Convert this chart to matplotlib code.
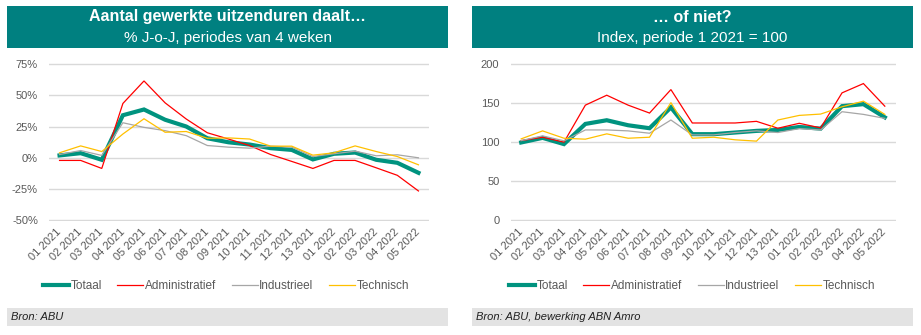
import matplotlib
matplotlib.use("Agg")
import matplotlib.pyplot as plt
from matplotlib.patches import Rectangle
from matplotlib.ticker import FuncFormatter

plt.rcParams['font.family'] = ['Liberation Sans', 'DejaVu Sans']

periods = ["01 2021", "02 2021", "03 2021", "04 2021", "05 2021", "06 2021",
           "07 2021", "08 2021", "09 2021", "10 2021", "11 2021", "12 2021",
           "13 2021", "01 2022", "02 2022", "03 2022", "04 2022", "05 2022"]

# Year-on-year change (%), 4-week periods
yoy_totaal = [1.9, 3.7, -1.6, 34.0, 38.6, 30.4, 25.0, 15.6, 12.4, 10.6, 7.7, 6.3,
              -1.3, 3.2, 4.2, -1.6, -4.0, -12.0]
yoy_admin = [-2.1, -2.1, -8.5, 43.4, 61.4, 43.9, 31.0, 20.0, 15.0, 9.8, 2.6, -2.9,
             -8.5, -2.1, -2.1, -8.0, -14.0, -26.5]
yoy_industrie = [2.6, 5.8, 1.9, 28.0, 24.3, 21.7, 17.7, 9.8, 8.5, 7.7, 9.3, 8.5,
                 1.0, 3.2, 5.3, 1.6, 2.4, 0.0]
yoy_techniek = [4.0, 9.5, 5.0, 19.0, 31.2, 20.4, 21.0, 15.6, 15.9, 15.0, 9.3, 9.3,
                2.1, 4.0, 9.5, 5.0, 1.0, -5.6]

# Index, period 1 2021 = 100
idx_totaal = [99.6, 105.5, 97.5, 123.3, 128.0, 121.6, 117.8, 144.4, 110.2, 110.2,
              112.3, 114.4, 115.6, 119.4, 117.3, 146.0, 148.6, 131.7]
idx_admin = [102.0, 106.3, 100.0, 147.3, 160.0, 147.3, 137.2, 167.2, 124.5, 124.5,
             124.5, 126.6, 117.8, 124.1, 118.2, 163.0, 174.9, 146.0]
idx_industrie = [102.0, 108.0, 101.7, 115.6, 115.6, 114.4, 111.4, 128.3, 109.3, 109.3,
                 112.3, 114.4, 112.3, 117.3, 115.6, 138.9, 135.5, 130.4]
idx_techniek = [104.2, 114.4, 105.0, 103.8, 110.6, 105.0, 106.3, 150.6, 105.0, 106.3,
                103.0, 101.3, 128.3, 134.2, 135.9, 145.2, 152.4, 135.5]

series_names = ["Totaal", "Administratief", "Industrieel", "Technisch"]
series_colors = ["#00937F", "#FF0000", "#A6A6A6", "#FFC000"]
series_widths = [3.0, 0.9, 0.9, 0.9]

W, H = 921, 335
fig = plt.figure(figsize=(W / 100, H / 100), dpi=100)

TEAL = "#008080"
GRID = "#D9D9D9"
TICK = "#595959"


def px_rect(x0, y0, x1, y1):
    return [x0 / W, 1 - y1 / H, (x1 - x0) / W, (y1 - y0) / H]


def header(x0, x1, line1, line2):
    fig.patches.append(Rectangle((x0 / W, 1 - 48 / H), (x1 - x0) / W, 42 / H,
                                 transform=fig.transFigure, facecolor=TEAL,
                                 edgecolor="none"))
    xc = (x0 + x1) / 2 / W
    fig.text(xc, 1 - 17 / H, line1, ha="center", va="center", color="white",
             fontsize=11.5, fontweight="bold")
    fig.text(xc, 1 - 38 / H, line2, ha="center", va="center", color="white",
             fontsize=11)


def footer(x0, x1, text):
    fig.patches.append(Rectangle((x0 / W, 1 - 326 / H), (x1 - x0) / W, 18 / H,
                                 transform=fig.transFigure, facecolor="#E3E3E3",
                                 edgecolor="none"))
    fig.text((x0 + 4) / W, 1 - 317 / H, text, ha="left", va="center",
             color="#1F1F1F", fontsize=8, fontstyle="italic")


def panel(rect, data, ylim, yticks, fmt):
    ax = fig.add_axes(rect)
    x = list(range(len(periods)))
    handles = []
    for i, (vals, name, col, lw) in enumerate(zip(data, series_names,
                                                  series_colors, series_widths)):
        h, = ax.plot(x, vals, color=col, lw=lw, label=name,
                     zorder=3 if i == 0 else 4, solid_joinstyle="miter")
        handles.append(h)
    ax.set_xlim(-0.5, len(periods) - 0.5)
    pad = (ylim[1] - ylim[0]) * 0.004
    ax.set_ylim(ylim[0] - pad, ylim[1] + pad)
    ax.set_yticks(yticks)
    ax.yaxis.set_major_formatter(FuncFormatter(fmt))
    ax.set_xticks(x)
    ax.set_xticklabels(periods, rotation=45, ha="right", va="center",
                       rotation_mode="anchor", fontsize=8, color=TICK)
    ax.tick_params(axis="x", length=0, pad=7)
    ax.tick_params(axis="y", length=0, pad=8, labelsize=8, labelcolor=TICK)
    for s in ax.spines.values():
        s.set_visible(False)
    ax.grid(axis="y", color=GRID, lw=1.0)
    ax.set_axisbelow(True)
    return ax, handles


legend_style = dict(loc="center", bbox_transform=fig.transFigure, ncol=4,
                    frameon=False, fontsize=8.5, handlelength=2.2,
                    handletextpad=0.15, columnspacing=1.3, labelcolor=TICK)

# Left panel: year-on-year change
header(7, 448, "Aantal gewerkte uitzenduren daalt\u2026", "% J-o-J, periodes van 4 weken")
axl, hl = panel(px_rect(49, 63.3, 429, 221),
                [yoy_totaal, yoy_admin, yoy_industrie, yoy_techniek],
                (-50, 75), [-50, -25, 0, 25, 50, 75],
                lambda v, p: f"{v:.0f}%")
axl.legend(handles=hl, bbox_to_anchor=(226 / W, 1 - 286 / H), **legend_style)
footer(7, 448, "Bron: ABU")

# Right panel: index
header(472, 913, "\u2026 of niet?", "Index, periode 1 2021 = 100")
axr, hr = panel(px_rect(510.5, 63.3, 895.5, 221),
                [idx_totaal, idx_admin, idx_industrie, idx_techniek],
                (0, 200), [0, 50, 100, 150, 200],
                lambda v, p: f"{v:.0f}")
axr.legend(handles=hr, bbox_to_anchor=(692 / W, 1 - 286 / H), **legend_style)
footer(472, 913, "Bron: ABU, bewerking ABN Amro")

fig.savefig("out.png", dpi=100, facecolor="white")
